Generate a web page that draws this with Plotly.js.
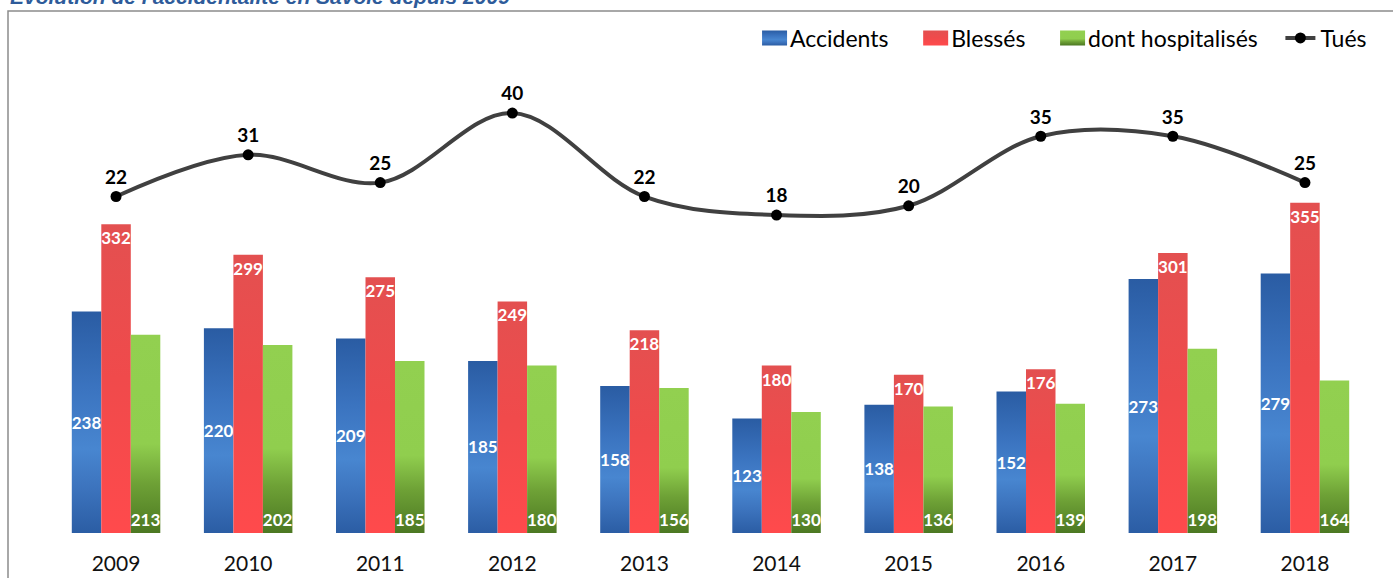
<!DOCTYPE html>
<html>
<head>
<meta charset="utf-8">
<script src="https://cdn.plot.ly/plotly-3.0.1.min.js"></script>
<style>html,body{margin:0;padding:0;background:#fff;}#chart{width:1393px;height:578px;}</style>
</head>
<body>
<div id="chart"></div>
<script>
const years = ['2009','2010','2011','2012','2013','2014','2015','2016','2017','2018'];
const accidents = [238,220,209,185,158,123,138,152,273,279];
const blesses = [332,299,275,249,218,180,170,176,301,355];
const hospitalises = [213,202,185,180,156,130,136,139,198,164];
const tues = [22,31,25,40,22,18,20,35,35,25];
const seriesNames = ['Accidents','Blessés','dont hospitalisés','Tués'];
const titleText = "Evolution de l'accidentalité en Savoie depuis 2009";

const FONT = 'Lato, "Open Sans", sans-serif';
const labelFont = {family: FONT, size: 17, color: '#ffffff', weight: 700};
const pad = '\u00a0\u00a0\u00a0';

const traces = [
  {type:'bar', name:seriesNames[0]+pad, x:years, y:accidents, text:accidents.map(String),
   textposition:'inside', insidetextanchor:'middle', constraintext:'none', textangle:0,
   textfont:labelFont, marker:{color:'#3A72BD'}, hoverinfo:'skip'},
  {type:'bar', name:seriesNames[1]+pad, x:years, y:blesses, text:blesses.map(String),
   textposition:'inside', insidetextanchor:'end', constraintext:'none', textangle:0,
   textfont:labelFont, marker:{color:'#F04A4B'}, hoverinfo:'skip'},
  {type:'bar', name:seriesNames[2]+pad, x:years, y:hospitalises, text:hospitalises.map(String),
   textposition:'inside', insidetextanchor:'start', constraintext:'none', textangle:0,
   textfont:labelFont, marker:{color:'#7DB544'}, hoverinfo:'skip'},
  {type:'scatter', mode:'lines+markers+text', name:seriesNames[3], x:years, y:tues, yaxis:'y2',
   text:tues.map(String), textposition:'top center',
   textfont:{family:FONT, size:19, color:'#000000', weight:700},
   line:{shape:'spline', smoothing:1, color:'#404040', width:4},
   marker:{color:'#000000', size:11}, cliponaxis:false, hoverinfo:'skip'}
];

const plotTop = 40, plotBottom = 533, plotH = plotBottom - plotTop;
const layout = {
  width:1393, height:578,
  margin:{l:50, r:22, t:plotTop, b:578-plotBottom, pad:0},
  paper_bgcolor:'#ffffff', plot_bgcolor:'rgba(0,0,0,0)',
  font:{family:FONT, color:'#000'},
  barmode:'group', bargap:0.33, bargroupgap:0,
  showlegend:true,
  legend:{orientation:'h', x:1.0008, xanchor:'right', y:(plotBottom-38)/plotH, yanchor:'middle',
    font:{family:FONT, size:23, color:'#000'}, bgcolor:'rgba(0,0,0,0)', itemwidth:30, traceorder:'normal'},
  xaxis:{type:'category', range:[-0.5,9.5], showgrid:false, zeroline:false, showline:false,
    ticks:'', tickfont:{family:FONT, size:21, color:'#111'}, ticklabelstandoff:16, fixedrange:true},
  yaxis:{range:[0,530], visible:false, showgrid:false, zeroline:false, fixedrange:true},
  yaxis2:{range:[-50.58,55.76], overlaying:'y', side:'right', visible:false, showgrid:false, zeroline:false, fixedrange:true},
  shapes:[{type:'rect', xref:'paper', yref:'paper',
    x0:(8-50)/1321, x1:1.2, y0:-0.3, y1:(plotBottom-11)/plotH,
    line:{color:'#8c8c8c', width:1.5}, fillcolor:'rgba(0,0,0,0)', layer:'below'}],
  annotations:[{text:'<b><i>'+titleText+'</i></b>', xref:'paper', yref:'paper',
    x:(8-50)/1321, xanchor:'left', y:(plotBottom+3)/plotH, yanchor:'middle', showarrow:false,
    font:{family:'"Liberation Sans", Arial, sans-serif', size:21, color:'#2E5B9A'}}]
};

Plotly.newPlot('chart', traces, layout, {displayModeBar:false, staticPlot:true}).then(function(gd){
  const svgNS = 'http://www.w3.org/2000/svg';
  const defs = gd.querySelector('.main-svg defs');
  const grads = {
    gBlue:[[0,'#2A5CA3'],[0.35,'#3B74C0'],[0.62,'#4886D0'],[0.8,'#3C73BD'],[1,'#2B5DA4']],
    gRed:[[0,'#E35050'],[0.5,'#F04A4B'],[1,'#FF4A4C']],
    gGreen:[[0,'#92D050'],[0.55,'#90CE4E'],[0.75,'#6EA136'],[1,'#4C7822']]
  };
  Object.keys(grads).forEach(function(id){
    const lg = document.createElementNS(svgNS,'linearGradient');
    lg.setAttribute('id', id); lg.setAttribute('x1','0'); lg.setAttribute('y1','0');
    lg.setAttribute('x2','0'); lg.setAttribute('y2','1');
    grads[id].forEach(function(s){
      const st = document.createElementNS(svgNS,'stop');
      st.setAttribute('offset', s[0]); st.setAttribute('stop-color', s[1]);
      lg.appendChild(st);
    });
    defs.appendChild(lg);
  });
  const ids = ['gBlue','gRed','gGreen'];
  const barTraces = gd.querySelectorAll('.barlayer .trace');
  barTraces.forEach(function(t,i){
    t.querySelectorAll('.point path').forEach(function(p){ p.style.fill = 'url(#'+ids[i]+')'; });
  });
  const legTraces = gd.querySelectorAll('.legend .traces');
  legTraces.forEach(function(t,i){
    if(i<3) t.querySelectorAll('.legendpoints path').forEach(function(p){
      p.setAttribute('d','M17,7.5H-8V-7.5H17Z');
      p.style.fill = 'url(#'+ids[i]+')';
      p.style.stroke = 'none';
    });
  });
});
</script>
</body>
</html>
